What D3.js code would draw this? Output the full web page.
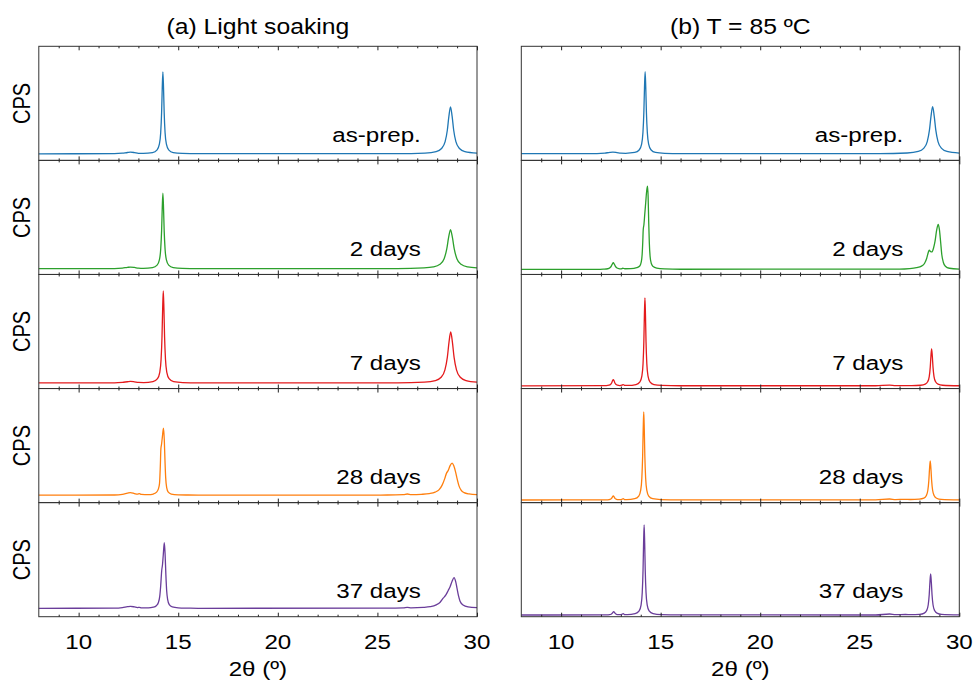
<!DOCTYPE html>
<html lang="en">
<head>
<meta charset="utf-8">
<title>XRD - light soaking vs 85 C</title>
<script src="https://cdn.jsdelivr.net/npm/d3@7"></script>
<style>
body { margin: 0; background: #fff; }
svg text { font-family: "Liberation Sans", Arial, sans-serif; fill: #000; }
</style>
</head>
<body>
<div id="chart"></div>
<script>

// sample labels and axis ticks
var sampleLabels = ["as-prep.", "2 days", "7 days", "28 days", "37 days"];
var lineColors = ["#1f77b4", "#2ca02c", "#e41a1c", "#ff7f0e", "#6a3d9a"];
var xMajor = [10, 15, 20, 25, 30];
var xMinor = [9, 11, 12, 13, 14, 16, 17, 18, 19, 21, 22, 23, 24, 26, 27, 28, 29];
var columnTitles = ["(a) Light soaking", "(b) T = 85 \u00baC"];

// (a) light soaking patterns, [2theta, counts (a.u.)]
var soakAsPrep = [[8,6.6],[11.8,6.7],[12.2,7.2],[12.45,7.9],[12.6,8.2],[12.8,7.8],[13.0,7.1],[13.25,7.0],[13.71,7.8],[13.94,10.5],[14.05,15.9],[14.12,27.7],[14.165,47.6],[14.1975,72.2],[14.23,88.6],[14.2625,72.2],[14.295,47.6],[14.34,27.7],[14.41,15.9],[14.52,10.5],[14.75,7.8],[15.21,7.0],[16,6.7],[26,6.7],[27.39,7.3],[27.95,8.8],[28.22,11.9],[28.40,18.7],[28.51,30.1],[28.59,44.2],[28.67,53.6],[28.75,44.2],[28.83,30.1],[28.94,18.7],[29.12,11.9],[29.39,8.8],[30,7.3]];
var soak2d = [[8,5.8],[11.8,5.9],[12.2,6.4],[12.45,7.1],[12.6,7.4],[12.8,7.0],[13.0,6.3],[13.25,6.1],[13.71,6.9],[13.94,9.3],[14.05,14.3],[14.12,25.2],[14.165,43.6],[14.1975,66.2],[14.23,81.3],[14.2625,66.2],[14.295,43.6],[14.34,25.2],[14.41,14.3],[14.52,9.3],[14.75,6.9],[15.21,6.1],[16,5.9],[26,5.9],[27.34,6.6],[27.81,7.6],[28.14,10.2],[28.35,15.8],[28.48,25.3],[28.575,37.0],[28.67,44.8],[28.765,37.0],[28.86,25.3],[28.99,15.8],[29.2,10.2],[29.53,7.6],[30,6.6]];
var soak7d = [[8,5.6],[11.8,5.7],[12.2,6.2],[12.45,6.8],[12.6,7.1],[12.8,6.7],[13.0,6.1],[13.27,6.0],[13.73,6.9],[13.96,9.9],[14.07,16.0],[14.14,29.2],[14.185,51.6],[14.2175,79.2],[14.25,97.6],[14.2825,79.2],[14.315,51.6],[14.36,29.2],[14.43,16.0],[14.54,9.9],[14.77,6.9],[15.23,6.0],[16,5.7],[26,5.7],[27.36,6.4],[27.91,8.0],[28.2,11.3],[28.39,18.6],[28.51,31.1],[28.595,46.4],[28.68,56.6],[28.765,46.4],[28.85,31.1],[28.97,18.6],[29.16,11.3],[29.45,8.0],[30,6.4]];
var soak28d = [[8,7.5],[11.8,7.6],[12.2,8.3],[12.45,9.4],[12.6,10.0],[12.8,9.1],[12.95,8.4],[13.05,8.9],[13.15,8.2],[13.5,7.9],[13.75,8.6],[13.9,10.2],[14.0,13.5],[14.06,19],[14.1,36],[14.13,54],[14.16,58],[14.2,65],[14.26,74.5],[14.3,63],[14.335,42],[14.37,25],[14.42,15],[14.5,10.5],[14.65,8.6],[15.0,7.8],[15.5,7.6],[16,7.5],[25.5,7.6],[26.3,7.9],[26.5,8.6],[26.7,8.0],[27.2,8.3],[27.6,9.0],[27.9,10.5],[28.1,13],[28.25,17.5],[28.38,24],[28.47,29.5],[28.55,32],[28.65,37],[28.75,39.5],[28.83,37],[28.92,31],[29.0,24],[29.1,16.5],[29.2,12.5],[29.35,10],[29.6,8.7],[30,8.0]];
var soak37d = [[8,8.4],[11.8,8.5],[12.2,9.1],[12.45,10.0],[12.6,10.4],[12.8,9.8],[12.95,9.1],[13.05,9.4],[13.15,8.9],[13.5,8.8],[13.75,9.5],[13.9,11],[14.0,14],[14.07,20],[14.12,31],[14.17,46],[14.21,52],[14.25,62],[14.30,74.1],[14.34,63],[14.38,42],[14.42,26],[14.47,17],[14.55,12],[14.7,9.8],[15.0,8.9],[15.5,8.6],[16,8.4],[25.5,8.5],[26.3,8.8],[26.5,9.4],[26.7,8.9],[27.3,9.3],[27.65,10.0],[27.95,11.8],[28.15,14.5],[28.3,18.5],[28.43,21.5],[28.55,26],[28.65,30],[28.75,35.5],[28.85,39.1],[28.93,35],[29.0,28],[29.07,21],[29.15,15.5],[29.3,11.7],[29.55,9.8],[30,9.0]];

// (b) 85 C patterns
var heatAsPrep = [[8,6.7],[11.8,6.8],[12.2,7.3],[12.45,8.0],[12.6,8.2],[12.8,7.8],[13.0,7.2],[13.24,7.1],[13.70,7.9],[13.93,10.6],[14.04,16.0],[14.11,27.8],[14.155,47.7],[14.1875,72.3],[14.22,88.7],[14.2525,72.3],[14.285,47.7],[14.33,27.8],[14.40,16.0],[14.51,10.6],[14.74,7.9],[15.20,7.1],[16,6.8],[26,6.8],[27.38,7.4],[27.94,8.9],[28.21,12.0],[28.39,18.8],[28.50,30.2],[28.58,44.3],[28.66,53.7],[28.74,44.3],[28.82,30.2],[28.93,18.8],[29.11,12.0],[29.38,8.9],[30,7.3]];
var heat2d = [[8,5.0],[11.8,5.1],[12.12,5.3],[12.34,5.7],[12.45,6.7],[12.52,8.35],[12.57,10.4],[12.62,11.7],[12.67,10.4],[12.72,8.35],[12.79,6.7],[12.9,5.8],[13.0,5.6],[13.1,6.2],[13.2,5.7],[13.5,5.8],[13.8,6.8],[13.95,8.5],[14.02,12],[14.07,20],[14.1,32],[14.125,45],[14.16,50],[14.2,60],[14.25,72],[14.3,84],[14.34,88.3],[14.37,78],[14.4,52],[14.43,32],[14.47,18],[14.53,11],[14.62,8],[14.8,6.4],[15.2,5.6],[16,5.2],[27.0,5.3],[27.5,5.8],[27.85,6.8],[28.1,8.3],[28.25,11],[28.36,16],[28.44,22],[28.49,24.3],[28.55,23],[28.62,22.5],[28.7,26],[28.78,33],[28.86,44],[28.94,50],[29.0,45],[29.06,33],[29.12,20],[29.2,12],[29.3,8.2],[29.5,6.2],[30,5.3]];
var heat7d = [[8,2.7],[12.27,3.0],[12.41,3.4],[12.49,4.3],[12.545,5.85],[12.58,7.7],[12.62,9.0],[12.66,7.7],[12.695,5.85],[12.75,4.3],[12.83,3.4],[12.95,3.0],[13.05,3.3],[13.12,4.0],[13.2,3.2],[13.36,3.1],[13.76,4.0],[13.96,6.7],[14.055,12.4],[14.115,24.7],[14.155,46.7],[14.1825,73.1],[14.21,90.7],[14.2375,73.1],[14.265,46.7],[14.305,24.7],[14.365,12.4],[14.46,6.7],[14.66,4.0],[15.06,3.1],[16,2.8],[25.8,2.8],[26.5,3.4],[26.8,2.9],[27.2,3.0],[27.61,2.9],[28.06,3.3],[28.29,4.4],[28.41,6.8],[28.49,12.0],[28.54,21.2],[28.575,32.3],[28.61,39.7],[28.645,32.3],[28.68,21.2],[28.73,12.0],[28.81,6.8],[28.93,4.4],[29.16,3.3],[30,2.8]];
var heat28d = [[8,2.6],[12.27,2.8],[12.41,3.05],[12.49,3.6],[12.545,4.6],[12.58,5.8],[12.62,6.6],[12.66,5.8],[12.695,4.6],[12.75,3.6],[12.83,3.05],[12.95,2.9],[13.05,3.2],[13.12,3.9],[13.2,3.0],[13.30,3.0],[13.70,3.9],[13.90,6.6],[13.995,12.3],[14.055,24.6],[14.095,46.6],[14.1225,73.0],[14.15,90.6],[14.1775,73.0],[14.205,46.6],[14.245,24.6],[14.305,12.3],[14.40,6.6],[14.60,3.9],[15.0,3.0],[16,2.7],[25.8,2.7],[26.5,3.6],[26.8,3.0],[27.25,3.3],[27.54,3.1],[27.99,3.4],[28.22,4.4],[28.34,6.9],[28.42,12.4],[28.47,22.1],[28.505,33.8],[28.54,41.6],[28.575,33.8],[28.61,22.1],[28.66,12.4],[28.74,6.9],[28.86,4.4],[29.09,3.2],[30,2.7]];
var heat37d = [[8,1.7],[12.29,1.85],[12.43,2.05],[12.51,2.5],[12.565,3.35],[12.6,4.3],[12.64,5.0],[12.68,4.3],[12.715,3.35],[12.77,2.5],[12.85,2.05],[12.97,2.0],[13.05,2.4],[13.12,3.0],[13.2,2.1],[13.32,2.05],[13.72,3.05],[13.92,5.8],[14.015,11.6],[14.075,24.2],[14.115,46.7],[14.1425,73.7],[14.17,91.7],[14.1975,73.7],[14.225,46.7],[14.265,24.2],[14.325,11.6],[14.42,5.8],[14.62,3.05],[15.02,2.05],[16,1.8],[25.8,1.7],[26.5,2.7],[26.8,2.0],[27.3,2.2],[27.56,2.0],[28.01,2.3],[28.24,3.6],[28.36,6.2],[28.44,11.95],[28.49,22.2],[28.525,34.5],[28.56,42.7],[28.595,34.5],[28.63,22.2],[28.68,11.95],[28.76,6.2],[28.88,3.6],[29.11,2.3],[30,1.8]];

var soakSeries = [soakAsPrep, soak2d, soak7d, soak28d, soak37d];
var heatSeries = [heatAsPrep, heat2d, heat7d, heat28d, heat37d];

var w = 974;
var h = 685;
var top0 = 46.3;
var panelH = 114.08;
var stretch = 1.15; // glyphs in the figure are a bit wider than tall

var svg = d3.select("#chart")
	.append("svg")
	.attr("width", w)
	.attr("height", h);

var columns = [
	{ left: 38.8, right: 477, series: soakSeries, cps: true, title: columnTitles[0] },
	{ left: 521.3, right: 959.3, series: heatSeries, cps: false, title: columnTitles[1] }
];

function addText(g, str, x, y, size, anchor) {
	return g.append("text")
		.attr("transform", "translate(" + x + "," + y + ") scale(" + stretch + ",1)")
		.attr("text-anchor", anchor)
		.attr("font-size", size)
		.text(str);
}

columns.forEach(function(col) {
	var x = d3.scaleLinear().domain([8, 30]).range([col.left, col.right]);

	addText(svg, col.title, (col.left + col.right) / 2, 34, 21.5, "middle");

	col.series.forEach(function(data, i) {
		var pTop = top0 + i * panelH;
		var pBot = pTop + panelH;
		var y = d3.scaleLinear().domain([0, panelH]).range([pBot, pTop]);
		var g = svg.append("g");

		var line = d3.line()
			.x(function(d) { return x(d[0]); })
			.y(function(d) { return y(d[1]); })
			.curve(d3.curveMonotoneX);

		g.append("path")
			.datum(data)
			.attr("d", line)
			.attr("fill", "none")
			.attr("stroke", lineColors[i])
			.attr("stroke-width", 1.3);

		// frame
		g.append("rect")
			.attr("x", col.left)
			.attr("y", pTop)
			.attr("width", col.right - col.left)
			.attr("height", panelH)
			.attr("fill", "none")
			.attr("stroke", "#333")
			.attr("stroke-width", 1);

		// inward ticks, top and bottom
		var topMaj = d3.axisTop(x).tickValues(xMajor).tickSizeInner(-4).tickSizeOuter(0).tickFormat("");
		var topMin = d3.axisTop(x).tickValues(xMinor).tickSizeInner(-2).tickSizeOuter(0).tickFormat("");
		var botMaj = d3.axisBottom(x).tickValues(xMajor).tickSizeInner(-4).tickSizeOuter(0).tickFormat("");
		var botMin = d3.axisBottom(x).tickValues(xMinor).tickSizeInner(-2).tickSizeOuter(0).tickFormat("");
		[[topMaj, pTop], [topMin, pTop], [botMaj, pBot], [botMin, pBot]].forEach(function(a) {
			var ax = g.append("g").attr("transform", "translate(0," + a[1] + ")").call(a[0]);
			ax.select(".domain").remove();
			ax.selectAll("line").attr("stroke", "#222");
		});

		addText(g, sampleLabels[i], col.left + 382, pTop + 95.5, 21, "end");

		if (col.cps) {
			g.append("text")
				.attr("transform", "translate(30," + (pTop + panelH / 2) + ") scale(1.2,1) rotate(-90)")
				.attr("text-anchor", "middle")
				.attr("font-size", 20)
				.text("CPS");
		}
	});

	// tick labels under the bottom panel
	var bottom = top0 + 5 * panelH;
	xMajor.forEach(function(t) {
		addText(svg, t, x(t), bottom + 32, 21, "middle");
	});
	addText(svg, "2\u03b8 (\u00ba)", (col.left + col.right) / 2, 676, 21, "middle");
});

</script>
</body>
</html>
